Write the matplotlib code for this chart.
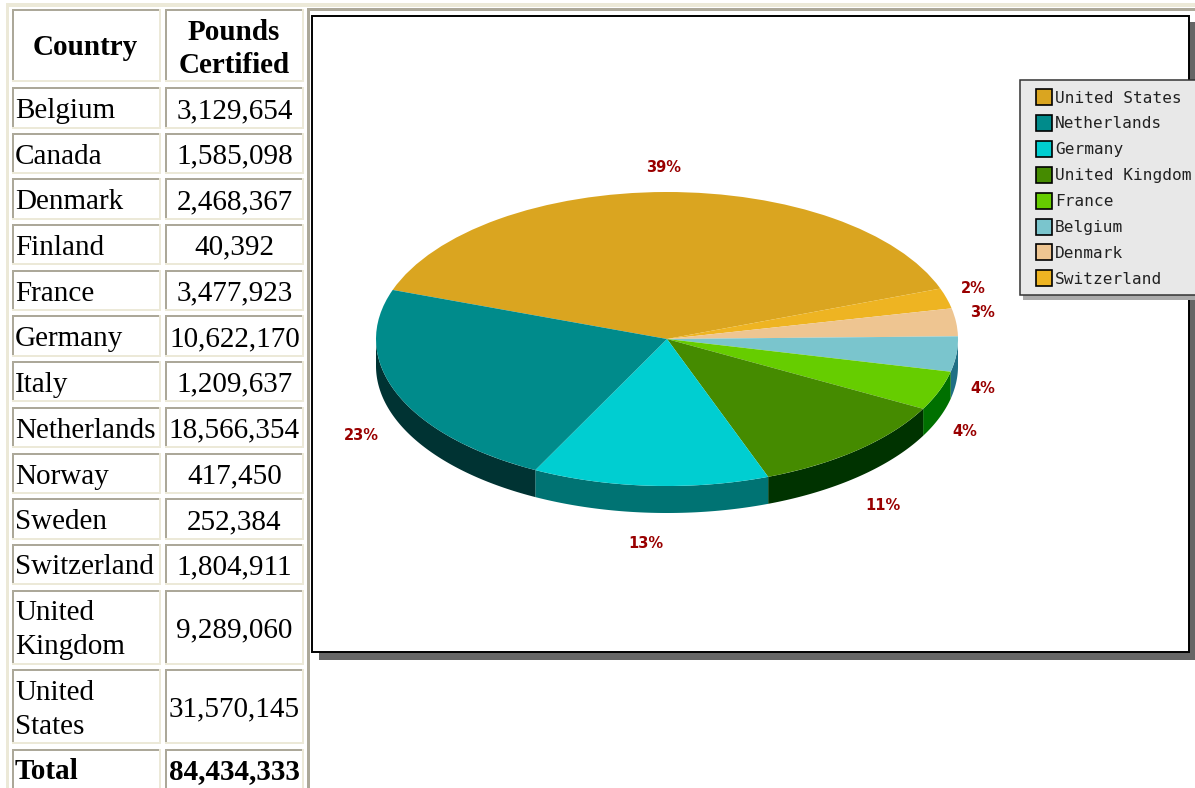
import numpy as np
import matplotlib
matplotlib.use('Agg')
import matplotlib.pyplot as plt
from matplotlib.patches import Rectangle, Polygon

countries = ['Belgium', 'Canada', 'Denmark', 'Finland', 'France', 'Germany', 'Italy',
             'Netherlands', 'Norway', 'Sweden', 'Switzerland', 'United\nKingdom',
             'United\nStates']
pounds = [3129654, 1585098, 2468367, 40392, 3477923, 10622170, 1209637,
          18566354, 417450, 252384, 1804911, 9289060, 31570145]
total = 84434333

legend_names = ['United States', 'Netherlands', 'Germany', 'United Kingdom',
                'France', 'Belgium', 'Denmark', 'Switzerland']
legend_colors = ['#DAA520', '#008B8B', '#00CED1', '#458B00',
                 '#66CD00', '#7AC5CD', '#EEC591', '#EEB422']

# clockwise order of the slices
pie_names = ['United States', 'Switzerland', 'Denmark', 'Belgium',
             'France', 'United Kingdom', 'Germany', 'Netherlands']
pie_values = [31570145, 1804911, 2468367, 3129654, 3477923, 9289060, 10622170, 18566354]
wall_colors = ['#8a6a10', '#8a6a10', '#8a7050', '#1F6F85',
               '#007000', '#003300', '#007373', '#003333']

row_edges = [(9, 82), (87, 129), (133, 174), (178, 220), (224, 265), (270, 311), (315, 357),
             (361, 402), (407, 448), (453, 494), (498, 540), (544, 585), (590, 665),
             (669, 744), (749, 792)]
label_xy = [(664, 167), (973, 288), (983, 312), (983, 388), (965, 431), (883, 505), (646, 543), (361, 435)]

W, H = 1195, 788
fig = plt.figure(figsize=(W / 100, H / 100), dpi=100)
ax = fig.add_axes([0, 0, 1, 1])
ax.set_xlim(0, W)
ax.set_ylim(H, 0)
ax.axis('off')

DARK = '#ACA899'
LIGHT = '#ECE9D8'
serif = 'Liberation Serif'
FS = 21


def box(x0, y0, x1, y1, tl, br, lw=2, fill='white', z=1):
    ax.add_patch(Rectangle((x0, y0), x1 - x0, y1 - y0, fc=br, ec='none', zorder=z))
    ax.add_patch(Rectangle((x0, y0), x1 - x0 - lw, lw, fc=tl, ec='none', zorder=z))
    ax.add_patch(Rectangle((x0, y0), lw, y1 - y0 - lw, fc=tl, ec='none', zorder=z))
    ax.add_patch(Rectangle((x0 + lw, y0 + lw), x1 - x0 - 2 * lw, y1 - y0 - 2 * lw, fc=fill, ec='none', zorder=z))


# table border
box(6, 3, 1300, 900, LIGHT, DARK, lw=3, z=0)
ax.add_patch(Rectangle((309, 8), 900, 3, fc=DARK, ec='none', zorder=0.5))
ax.add_patch(Rectangle((307, 11), 900, 800, fc='white', ec='none', zorder=0.5))
ax.add_patch(Rectangle((307, 8), 3, 800, fc=DARK, ec='none', zorder=0.6))
ax.add_patch(Rectangle((0, 0), W, 3, fc='white', ec='none', zorder=0.6))
ax.add_patch(Rectangle((6, 3), W, 4, fc=LIGHT, ec='none', zorder=0.6))

for i, (y0, y1) in enumerate(row_edges):
    box(12, y0, 161, y1, DARK, LIGHT)
    box(165, y0, 304, y1, DARK, LIGHT)
    ym = (y0 + y1) / 2 + 3
    if i == 0:
        ax.text(85, 47, 'Country', fontsize=FS, family=serif, weight='bold', ha='center', va='center', zorder=3)
        ax.text(234, 32, 'Pounds', fontsize=FS, family=serif, weight='bold', ha='center', va='center', zorder=3)
        ax.text(234, 65, 'Certified', fontsize=FS, family=serif, weight='bold', ha='center', va='center', zorder=3)
    elif i == len(row_edges) - 1:
        ax.text(15, ym - 2, 'Total', fontsize=FS, family=serif, weight='bold', ha='left', va='center', zorder=3)
        ax.text(234, ym - 2, f'{total:,}', fontsize=FS, family=serif, weight='bold', ha='center', va='center', zorder=3)
    else:
        name = countries[i - 1]
        if '\n' in name:
            a, b = name.split('\n')
            ax.text(15, ym - 17, a, fontsize=FS, family=serif, ha='left', va='center', zorder=3)
            ax.text(15, ym + 17, b, fontsize=FS, family=serif, ha='left', va='center', zorder=3)
        else:
            ax.text(15, ym, name, fontsize=FS, family=serif, ha='left', va='center', zorder=3)
        ax.text(234.5, ym, f'{pounds[i - 1]:,}', fontsize=FS, family=serif, ha='center', va='center', zorder=3)

# chart frame with shadow
ax.add_patch(Rectangle((319, 22), 900, 638, fc='#666666', ec='none', zorder=1))
ax.add_patch(Rectangle((312.5, 15.5), 877, 636, fc='white', ec='black', lw=1.4, zorder=1.1))

# pie, squeezed into an ellipse
cx, cy, rx, ry = 667, 339, 291, 147
pad = 1.25
pax = fig.add_axes([(cx - rx * pad) / W, 1 - (cy + ry * pad) / H, 2 * rx * pad / W, 2 * ry * pad / H])
color_of = dict(zip(legend_names, legend_colors))
wedges, _ = pax.pie(pie_values, colors=[color_of[n] for n in pie_names], startangle=160.5,
                    counterclock=False, wedgeprops={'linewidth': 0})
pax.set_aspect('auto')
pax.set_xlim(-pad, pad)
pax.set_ylim(-pad, pad)
depth = 27 / ry
for w, c in zip(wedges, wall_colors):
    a0, a1 = w.theta1 % 360, w.theta2 % 360
    if a1 <= a0:
        a1 += 360
    t0, t1 = max(a0, 180), min(a1, 360)
    if t1 <= t0:
        continue
    t = np.radians(np.linspace(t0, t1, 80))
    top = np.column_stack([np.cos(t), np.sin(t)])
    bottom = top[::-1] - [0, depth]
    pax.add_patch(Polygon(np.vstack([top, bottom]), fc=c, ec='none', zorder=0, clip_on=False))

# percent labels
ax_top = fig.add_axes([0, 0, 1, 1])
ax_top.set_xlim(0, W)
ax_top.set_ylim(H, 0)
ax_top.axis('off')
ptotal = sum(pie_values)
for v, (x, y) in zip(pie_values, label_xy):
    ax_top.text(x, y, f'{100 * v / ptotal:.0f}%', fontsize=10.5, weight='bold', color='#990000',
                family='DejaVu Sans', ha='center', va='center')

# legend box
ax_top.add_patch(Rectangle((1023, 84), 200, 216, fc='#aaaaaa', ec='none'))
ax_top.add_patch(Rectangle((1020, 80), 200, 215, fc='#E8E8E8', ec='#333333', lw=1.1))
for i, (n, c) in enumerate(zip(legend_names, legend_colors)):
    y = 97 + i * 25.9
    ax_top.add_patch(Rectangle((1036, y - 8), 16, 16, fc=c, ec='black', lw=1.2))
    ax_top.text(1055, y + 1, n, fontsize=11.6, family='DejaVu Sans Mono', color='#222222', ha='left', va='center')

fig.savefig('out.png', dpi=100)
